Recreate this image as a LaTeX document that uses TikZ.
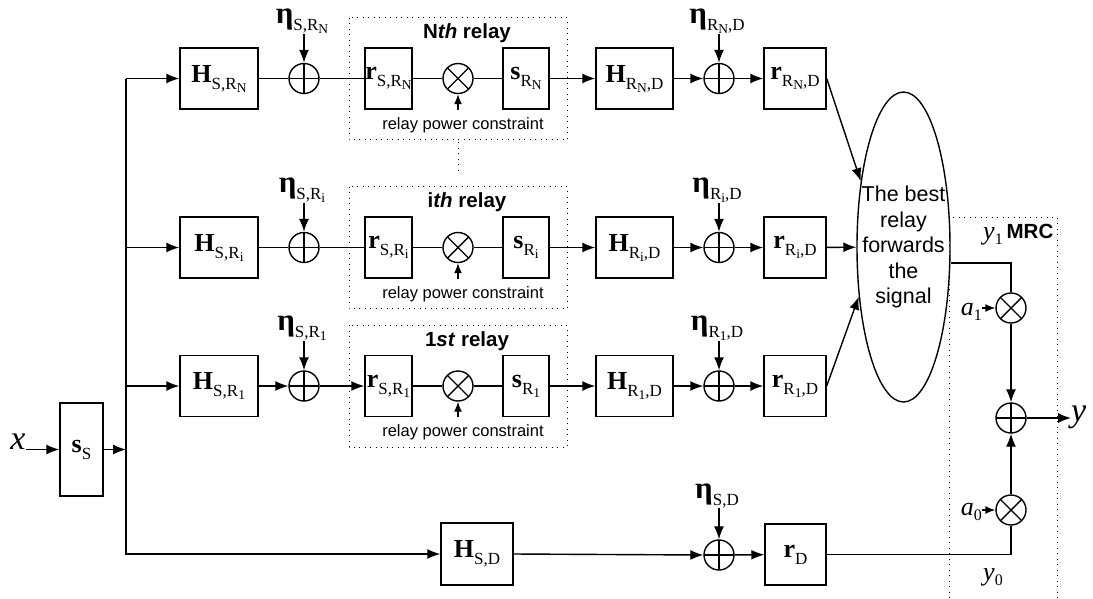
\documentclass[tikz,border=0pt]{standalone}
\usepackage{fontspec}
\setmainfont{Liberation Serif}
\newfontfamily\arialf{Liberation Sans}
\usetikzlibrary{arrows.meta,shapes.geometric}
\newcommand{\sbs}[1]{\raisebox{-7pt}{\normalfont\fontsize{17}{17}\selectfont #1}}
\newcommand{\ssbs}[1]{\raisebox{-3pt}{\normalfont\fontsize{13.5}{13.5}\selectfont #1}}
\newcommand{\lsub}[1]{\raisebox{-5pt}{\normalfont\fontsize{16}{16}\selectfont #1}}
\begin{document}
\begin{tikzpicture}[x=1pt,y=-1pt,
 ln/.style={line width=1.4pt},
 arr/.style={line width=1.4pt,-{Latex[length=13pt,width=10pt]}},
 sarr/.style={line width=1.4pt,-{Latex[length=10pt,width=8pt]}},
 box/.style={draw,line width=1.4pt,inner sep=0pt,font=\fontsize{26}{30}\selectfont},
 hbox/.style={box,minimum width=78pt,minimum height=61pt},
 rbox/.style={box,minimum width=47pt,minimum height=61pt},
 sbox/.style={box,minimum width=46pt,minimum height=61pt},
 hrbox/.style={box,minimum width=77pt,minimum height=61pt},
 rrbox/.style={box,minimum width=62pt,minimum height=61pt},
 sumc/.style={circle,draw,line width=1.4pt,minimum size=30pt,inner sep=0pt,
   path picture={\draw[line width=1.4pt] (path picture bounding box.north) -- (path picture bounding box.south)
     (path picture bounding box.west) -- (path picture bounding box.east);}},
 mulc/.style={circle,draw,line width=1.4pt,minimum size=30pt,inner sep=0pt,
   path picture={\draw[line width=1.4pt] (path picture bounding box.north west) -- (path picture bounding box.south east)
     (path picture bounding box.south west) -- (path picture bounding box.north east);}},
 etal/.style={anchor=south,inner sep=0pt,font=\bfseries\fontsize{31}{34}\selectfont},
 dotbox/.style={line width=1pt,dash pattern=on 1pt off 4.5pt},
 ttlf/.style={inner sep=0pt,font=\arialf\bfseries\fontsize{20.5}{24}\selectfont},
 rpcf/.style={inner sep=0pt,font=\arialf\fontsize{16.5}{20}\selectfont},
 itl/.style={inner sep=0pt,font=\itshape\fontsize{26}{30}\selectfont},
 bigit/.style={inner sep=0pt,font=\itshape\fontsize{34}{38}\selectfont}
]
\useasboundingbox (0,0) rectangle (1093,598);

% source
\node[box,minimum width=43pt,minimum height=93pt] (sS) at (81.5,449.5) {\textbf{s}\sbs{S}};
\node[bigit] (xl) at (18,442) {x};
\draw[arr] (xl.east |- sS) -- (sS.west);
\coordinate (TS) at (126,449.5);
\coordinate (TN) at (126,78.5);
\coordinate (TD) at (126,554);
\draw[arr] (sS) -- (TS);

% relay rows
\foreach \k/\yy/\ttl/\st in {N/78.5/{N\textit{th}}/ln, i/247.5/{i\textit{th}}/ln, 1/386/{1\textit{st}}/arr}{
 \coordinate (T\k) at (126,\yy);
 \node[hbox] (H\k) at (219,\yy) {\textbf{H}\sbs{S,R\ssbs{\k}}};
 \node[sumc] (a\k) at (304,\yy) {};
 \node[rbox] (r\k) at (388.5,\yy) {\textbf{r}\sbs{S,R\ssbs{\k}}};
 \node[mulc] (m\k) at (458,\yy) {};
 \node[sbox] (s\k) at (526,\yy) {\textbf{s}\sbs{R\ssbs{\k}}};
 \node[hrbox] (G\k) at (634.5,\yy) {\textbf{H}\sbs{R\ssbs{\k},D}};
 \node[sumc] (b\k) at (719,\yy) {};
 \node[rrbox] (q\k) at (795,\yy) {\textbf{r}\sbs{R\ssbs{\k},D}};
 \node[etal] (e\k) at (302,\yy-45) {η\sbs{S,R\ssbs{\k}}};
 \node[etal] (f\k) at (717,\yy-45) {η\sbs{R\ssbs{\k},D}};
 \draw[dotbox] (349,\yy-61) rectangle (567,\yy+61);
 \node[ttlf] (t\k) at (467,\yy-45) {\ttl\ relay};
 \node[rpcf] (p\k) at (463,\yy+46.5) {relay power constraint};
 \draw[arr] (T\k) -- (H\k);
 \draw[\st] (H\k) -- (a\k);
 \draw[\st] (a\k) -- (r\k);
 \draw[ln] (r\k) -- (m\k) -- (s\k);
 \draw[arr] (s\k) -- (G\k);
 \draw[arr] (G\k) -- (b\k);
 \draw[arr] (b\k) -- (q\k);
 \draw[arr] (a\k.north |- e\k.south) -- (a\k.north);
 \draw[arr] (b\k.north |- f\k.south) -- (b\k.north);
 \draw[sarr] (m\k.south |- r\k.south) -- (m\k.south);
}
\draw[dotbox] (458,142) -- (458,175);

% direct link
\node[box,minimum width=72pt,minimum height=62pt] (HD) at (477,554) {\textbf{H}\sbs{S,D}};
\node[sumc] (aD) at (719,555) {};
\node[box,minimum width=61pt,minimum height=61pt] (rD) at (795.5,554.5) {\textbf{r}\sbs{D}};
\node[etal] (eD) at (717,508) {η\sbs{S,D}};
\draw[arr] (TN) -- (TD) -- (HD);
\draw[arr] (HD.east) -- (aD.west);
\draw[arr] (aD) -- (rD);
\draw[arr] (aD.north |- eD.south) -- (aD.north);

% selection
\node[ellipse,draw,line width=1.4pt,minimum width=93pt,minimum height=310pt,inner sep=0pt] (best) at (903.5,247) {};
\node[inner sep=0pt,align=center,font=\arialf\fontsize{21.5}{25.5}\selectfont] (bt) at (best.center) {The best\\relay\\forwards\\the\\signal};
\draw[arr] (qN.east) -- (best.123);
\draw[arr] (qi) -- (best);
\draw[arr] (q1.east) -- (best.228);

% MRC
\draw[dotbox] (949,598) -- (949,217) -- (1057,217) -- (1057,598);
\node[ttlf] (mrc) at (1030,231) {MRC};
\node[mulc] (mA) at (1011,308) {};
\node[sumc] (sM) at (1011,418) {};
\node[mulc] (mB) at (1011,510) {};
\coordinate (cA) at (1011,263);
\draw[ln] (best.east |- cA) -- (cA) -- (mA);
\draw[arr] (mA) -- (sM);
\draw[arr] (mB) -- (sM);
\draw[ln] (rD) -| (mB);
\node[itl,anchor=east] (la1) at (982,312) {a\lsub{1}};
\node[itl,anchor=east] (la0) at (982,512) {a\lsub{0}};
\draw[sarr] (la1.east |- mA) -- (mA.west);
\draw[sarr] (la0.east |- mB) -- (mB.west);
\node[bigit,anchor=west] (yo) at (1071,417) {y};
\draw[arr] (sM) -- (yo.west |- sM);
\node[itl] (y1) at (993,236) {y\lsub{1}};
\node[itl] (y0) at (993,577) {y\lsub{0}};
\end{tikzpicture}
\end{document}
